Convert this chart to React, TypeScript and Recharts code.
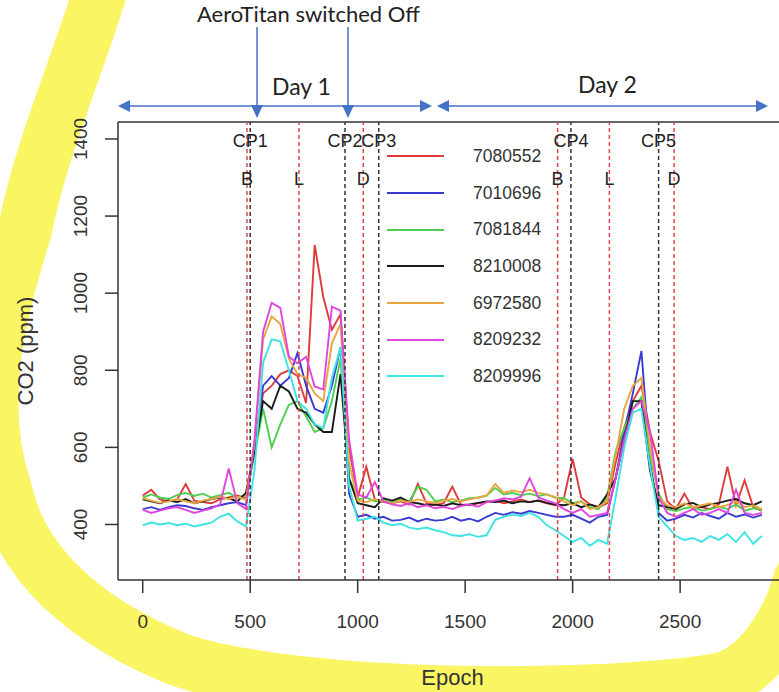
import React from "react";
import { LineChart, Line, XAxis, YAxis, ReferenceLine, Legend } from "recharts";

const FONT = '"Liberation Sans", Arial, Helvetica, sans-serif';
const NOTE_FONT = 'Lato, "Open Sans", sans-serif';

// epoch samples
const epochs = [
  0, 40, 80, 120, 160, 200, 240, 280, 320, 360,
  400, 440, 480, 520, 560, 600, 640, 680, 720, 760,
  800, 840, 880, 920, 960, 1000, 1040, 1080, 1120, 1160,
  1200, 1240, 1280, 1320, 1360, 1400, 1440, 1480, 1520, 1560,
  1600, 1640, 1680, 1720, 1760, 1800, 1840, 1880, 1920, 1960,
  2000, 2040, 2080, 2120, 2160, 2200, 2240, 2280, 2320, 2360,
  2400, 2440, 2480, 2520, 2560, 2600, 2640, 2680, 2720, 2760,
  2800, 2840, 2880,
];

const co2_7080552 = [
  475, 490, 465, 460, 465, 505, 462, 458, 455, 465,
  470, 475, 468, 600, 740, 760, 790, 800, 785, 715,
  1125, 990, 905, 945, 600, 470, 550, 465, 458, 455,
  460, 452, 505, 455, 450, 455, 498, 452, 450, 455,
  458, 462, 455, 460, 465, 458, 462, 455, 450, 470,
  570, 470, 452, 445, 455, 560, 650, 720, 760, 640,
  565, 460, 440, 480, 440, 445, 440, 452, 550, 450,
  515, 445, 435,
];
const co2_7010696 = [
  440, 445, 438, 445, 450, 448, 442, 438, 445, 450,
  455, 458, 450, 600, 760, 785, 760, 780, 845, 760,
  700, 690, 760, 860, 480, 420, 425, 415, 420, 410,
  412, 418, 408, 415, 410, 412, 420, 410, 415, 408,
  420, 430, 425, 432, 428, 435, 430, 425, 420, 420,
  425, 415, 405, 420, 425, 520, 640, 740, 850, 560,
  430, 410, 415, 425, 418, 430, 422, 415, 430, 420,
  426, 418, 425,
];
const co2_7081844 = [
  470, 478, 470, 466, 476, 482, 474, 480, 470, 476,
  482, 470, 476, 580, 700, 600, 660, 710, 720, 680,
  640, 650, 720, 830, 520, 465, 470, 460, 462, 458,
  465, 460, 498, 490, 460, 465, 458, 462, 468, 470,
  475, 495, 478, 482, 476, 480, 474, 478, 470, 468,
  455, 460, 445, 440, 470, 590, 650, 700, 730, 580,
  480, 440, 435, 442, 445, 436, 440, 446, 440, 452,
  436, 442, 438,
];
const co2_8210008 = [
  465, 460, 455, 462, 458, 466, 455, 460, 466, 470,
  468, 460, 482, 590, 720, 700, 760, 745, 700, 690,
  660, 640, 640, 790, 520, 455, 450, 445, 468, 462,
  470, 458, 455, 450, 452, 448, 455, 450, 452, 456,
  460, 458, 462, 455, 460, 458, 462, 456, 452, 450,
  455, 445, 452, 445, 478, 520, 620, 720, 720, 540,
  450, 445, 440, 452, 456, 445, 452, 456, 462, 466,
  455, 450, 460,
];
const co2_6972580 = [
  468, 462, 456, 460, 466, 460, 455, 462, 466, 472,
  466, 472, 465, 610, 880, 940, 920, 830, 790, 780,
  740, 720, 870, 920, 560, 462, 458, 465, 460, 455,
  462, 458, 465, 460, 456, 462, 466, 460, 465, 470,
  475, 505, 482, 488, 484, 490, 482, 478, 470, 460,
  450, 460, 440, 445, 460, 580, 700, 760, 780, 600,
  470, 450, 445, 455, 445, 450, 455, 445, 450, 460,
  445, 450, 440,
];
const co2_8209232 = [
  438, 430, 436, 442, 445, 438, 430, 436, 442, 452,
  545, 455, 440, 620, 900, 975, 962, 835, 818, 835,
  758, 750, 965, 955, 620, 478, 470, 510, 460, 452,
  448, 455, 445, 450, 442, 446, 440, 448, 452, 446,
  458, 462, 468, 465, 472, 520, 470, 462, 455, 440,
  430, 440, 420, 425, 430, 520, 620, 700, 720, 640,
  470, 430, 420, 430, 440, 425, 430, 440, 430, 490,
  430, 425, 430,
];
const co2_8209996 = [
  398, 405, 400, 404, 398, 402, 395, 400, 405, 420,
  428, 408, 395, 540, 820, 880, 875, 800, 720, 700,
  660, 650, 780, 860, 500, 410, 415, 420, 405, 398,
  402, 392, 388, 392, 385, 380, 372, 370, 375, 368,
  372, 412, 420, 426, 422, 430, 420, 398, 385, 370,
  355, 365, 345, 360, 350, 470, 600, 690, 700, 550,
  420, 395, 370, 360, 365, 355, 370, 360, 375, 355,
  380, 350, 370,
];

const sensorIds = ["7080552", "7010696", "7081844", "8210008", "6972580", "8209232", "8209996"];
const sensorValues = [co2_7080552, co2_7010696, co2_7081844, co2_8210008, co2_6972580, co2_8209232, co2_8209996];
const sensorColors = ["#DF3B3B", "#3A3AD2", "#4CCF4C", "#1c1c1c", "#E8A640", "#E045E0", "#3FE3E3"];

const xTicks = [0, 500, 1000, 1500, 2000, 2500];
const yTicks = [400, 600, 800, 1000, 1200, 1400];

// meals (red dashed) and change points (black dashed)
const mealEpochs = [485, 727, 1026, 1930, 2171, 2472];
const mealLabels = ["B", "L", "D", "B", "L", "D"];
const cpEpochs = [500, 941, 1098, 1992, 2400];
const cpLabels = ["CP1", "CP2", "CP3", "CP4", "CP5"];

const X_DOMAIN: [number, number] = [-115, 2960];
const Y_DOMAIN: [number, number] = [256, 1444];

const data = epochs.map((epoch, i) => {
  const row: Record<string, number> = { epoch };
  sensorIds.forEach((id, k) => {
    row[id] = sensorValues[k][i];
  });
  return row;
});

const YTick = (props: any) => {
  const { x, y, payload } = props;
  return (
    <text x={x} y={y} transform={`rotate(-90 ${x} ${y})`} textAnchor="middle" fontSize={19} fill="#333" fontFamily={FONT}>
      {payload.value}
    </text>
  );
};

const YTitle = (props: any) => {
  const vb = props.viewBox || { x: 0, y: 122, width: 118, height: 458 };
  const x = vb.x + 33;
  const y = vb.y + vb.height / 2;
  return (
    <text x={x} y={y} transform={`rotate(-90 ${x} ${y})`} textAnchor="middle" fontSize={22} fill="#333" fontFamily={FONT}>
      CO2 (ppm)
    </text>
  );
};

const XTitle = (props: any) => {
  const vb = props.viewBox || { x: 118, y: 580, width: 661, height: 112 };
  return (
    <text x={vb.x + vb.width / 2 + 4} y={vb.y + 105} textAnchor="middle" fontSize={22} fill="#333" fontFamily={FONT}>
      Epoch
    </text>
  );
};

const LegendBox = (props: any) => {
  const items = [...(props.payload || [])].sort(
    (a: any, b: any) => sensorIds.indexOf(String(a.value)) - sensorIds.indexOf(String(b.value))
  );
  return (
    <div style={{ fontFamily: FONT }}>
      {items.map((it: any) => (
        <div key={it.value} style={{ display: "flex", alignItems: "center", height: 36.7 }}>
          <svg width={57} height={4} style={{ marginRight: 29 }}>
            <line x1={0} y1={2} x2={57} y2={2} stroke={it.color} strokeWidth={2} />
          </svg>
          <span style={{ fontSize: 17.5, color: "#333" }}>{it.value}</span>
        </div>
      ))}
    </div>
  );
};

function Highlighter() {
  return (
    <svg width={779} height={692} style={{ position: "absolute", left: 0, top: 0 }}>
      <path
        d="M102,-15 C80,60 40,150 25,230 C0,310 -25,400 5,490 C20,560 80,620 180,660 C300,700 600,700 720,680 C760,670 790,620 800,580"
        fill="none"
        stroke="#FAF562"
        strokeWidth={54}
        strokeLinecap="round"
        strokeLinejoin="round"
      />
    </svg>
  );
}

function Notes() {
  const blue = "#4472C4";
  return (
    <svg width={779} height={692} style={{ position: "absolute", left: 0, top: 0, pointerEvents: "none" }}>
      <text x={197} y={22} fontSize={22} fill="#222" fontFamily={NOTE_FONT}>
        AeroTitan switched Off
      </text>
      {[257, 348].map((x) => (
        <g key={x}>
          <line x1={x} y1={27} x2={x} y2={106} stroke={blue} strokeWidth={1.5} />
          <polygon points={`${x},118 ${x - 6},105 ${x + 6},105`} fill={blue} />
        </g>
      ))}
      {[
        [118, 432],
        [437, 768],
      ].map(([a, b]) => (
        <g key={a}>
          <line x1={a + 10} y1={106} x2={b - 10} y2={106} stroke={blue} strokeWidth={1.5} />
          <polygon points={`${a},106 ${a + 12},100 ${a + 12},112`} fill={blue} />
          <polygon points={`${b},106 ${b - 12},100 ${b - 12},112`} fill={blue} />
        </g>
      ))}
      <text x={272} y={95} fontSize={23} fill="#222" fontFamily={NOTE_FONT}>
        Day 1
      </text>
      <text x={578} y={93} fontSize={23} fill="#222" fontFamily={NOTE_FONT}>
        Day 2
      </text>
    </svg>
  );
}

export default function App() {
  return (
    <div style={{ position: "absolute", left: 0, top: 0, width: 779, height: 692, background: "#fff", overflow: "hidden" }}>
      <Highlighter />
      <div style={{ position: "absolute", left: 0, top: 0 }}>
        <LineChart width={779} height={692} data={data} margin={{ top: 122, right: 0, bottom: 0, left: 0 }}>
          <XAxis
            dataKey="epoch"
            type="number"
            domain={X_DOMAIN}
            allowDataOverflow
            ticks={xTicks}
            interval={0}
            height={112}
            tickSize={13}
            tickMargin={22}
            stroke="#333"
            strokeWidth={1.5}
            tick={{ fontSize: 19, fill: "#333", fontFamily: FONT }}
            label={<XTitle />}
          />
          <YAxis
            type="number"
            domain={Y_DOMAIN}
            allowDataOverflow
            ticks={yTicks}
            interval={0}
            width={118}
            tickSize={13}
            tickMargin={18}
            stroke="#333"
            strokeWidth={1.5}
            tick={<YTick />}
            label={<YTitle />}
          />
          <ReferenceLine y={Y_DOMAIN[1]} stroke="#333" strokeWidth={1.5} />
          {sensorIds.map((id, k) => (
            <Line
              key={id}
              dataKey={id}
              name={id}
              type="linear"
              stroke={sensorColors[k]}
              strokeWidth={1.9}
              dot={false}
              activeDot={false}
              isAnimationActive={false}
            />
          ))}
          {mealEpochs.map((e, i) => (
            <ReferenceLine
              key={`m${i}`}
              x={e}
              stroke="#D9484A"
              strokeWidth={1.5}
              strokeDasharray="4 3"
              label={{ value: mealLabels[i], position: "insideTop", offset: 50, fontSize: 18, fill: "#222", fontFamily: FONT }}
            />
          ))}
          {cpEpochs.map((e, i) => (
            <ReferenceLine
              key={`c${i}`}
              x={e}
              stroke="#333"
              strokeWidth={1.5}
              strokeDasharray="4 3"
              label={{ value: cpLabels[i], position: "insideTop", offset: 12, fontSize: 18, fill: "#222", fontFamily: FONT }}
            />
          ))}
          <Legend
            layout="vertical"
            align="center"
            verticalAlign="middle"
            content={<LegendBox />}
            wrapperStyle={{ position: "absolute", left: 387, top: 138, width: 180, height: "auto" }}
          />
        </LineChart>
      </div>
      <Notes />
    </div>
  );
}
